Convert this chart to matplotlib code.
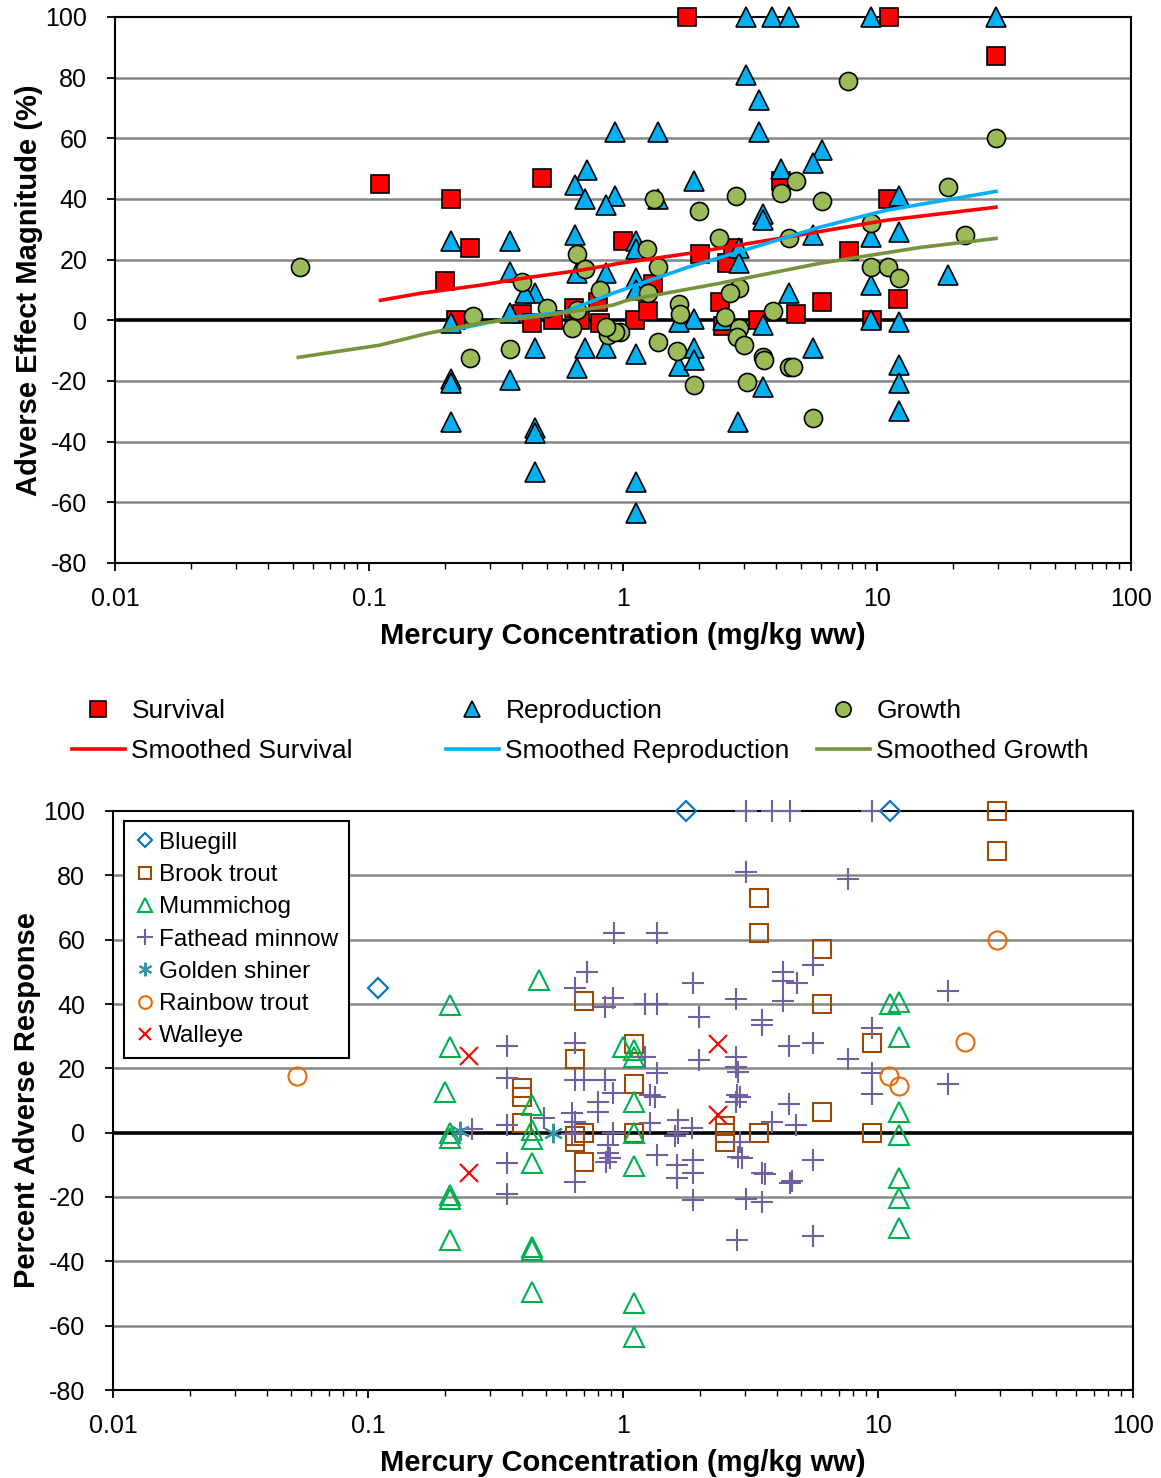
import numpy as np
import matplotlib
matplotlib.use("Agg")
import matplotlib.pyplot as plt
from matplotlib.lines import Line2D
from matplotlib.ticker import FixedLocator, FuncFormatter, LogLocator, NullFormatter

plt.rcParams['font.family'] = ['Liberation Sans', 'DejaVu Sans']
plt.rcParams['axes.unicode_minus'] = False

# ---- top panel: endpoints ----
surv_x = [0.11, 0.20, 0.21, 0.22, 0.25, 0.40, 0.44, 0.48, 0.53, 0.64, 0.68, 0.80, 0.81, 1.0,
          1.11, 1.25, 1.31, 1.79, 2.01, 2.41, 2.48, 2.57, 2.71, 3.4, 4.19, 4.8, 6.07, 7.76,
          9.6, 11.0, 11.1, 12.1, 29.4]
surv_y = [45, 13, 40, 0, 24, 2, -1, 47, 0, 4, 0, 6, -1, 26,
          0, 3, 12, 100, 22, 6, -2, 19, 24, 0, 46, 2, 6, 23,
          0, 40, 100, 7, 87]

repro_x = [3.05, 3.86, 4.5, 9.47, 29.4, 3.05, 3.43, 3.43, 0.93, 1.37, 6.07, 5.6, 0.72, 0.65,
           0.71, 0.93, 0.86, 1.9, 1.37, 12.2, 4.2, 3.55, 3.55, 9.5, 12.2, 1.13, 1.13, 0.65,
           0.36, 0.21, 0.36, 0.86, 0.66, 1.13, 1.13, 2.86, 2.86, 5.6, 9.5, 19, 4.5, 5.6,
           1.9, 1.66, 3.55, 9.5, 12.2, 12.2, 12.2, 12.2, 2.84, 3.55, 1.66, 1.9, 1.9, 0.86,
           0.71, 0.66, 1.12, 1.12, 1.12, 0.45, 0.45, 0.45, 0.45, 0.21, 0.21, 0.21, 0.21,
           0.36, 0.36, 0.45, 0.41, 2.48]
repro_y = [100, 100, 100, 100, 100, 81, 72.5, 62, 62, 62, 56, 52, 49.5, 44.5,
           40, 41, 38, 46, 40, 41, 50, 35, 33, 27.5, 29, 26, 23.5, 28,
           26, 26, 16, 15.5, 15.5, 14, 10, 24, 19, 28, 11.5, 15, 9, -9.2,
           0.6, -0.7, -1.6, 0, -0.6, -14.8, -20.8, -30, -33.6, -22, -15, -9, -13, -9.2,
           -9.2, -15.8, -11, -53.4, -63.6, -9.2, -35.5, -37, -50, -1, -19.5, -20.8, -33.6,
           -19.8, 2.3, 9, 9, 0]

growth_x = [0.0535, 7.7, 29.4, 19, 22.2, 9.5, 9.5, 11.0, 12.2, 4.8, 4.2, 2.78, 6.07, 1.32,
            2.0, 2.39, 4.5, 1.24, 1.37, 2.86, 2.64, 1.25, 1.66, 1.68, 0.97, 1.37, 1.63, 1.9,
            2.52, 2.86, 2.8, 3.0, 3.56, 3.6, 3.9, 3.08, 4.5, 4.66, 5.6, 0.257, 0.25, 0.36,
            0.40, 0.50, 0.66, 0.63, 0.81, 0.87, 0.93, 0.86, 0.66, 0.71]
growth_y = [17.5, 79, 60, 44, 28, 32, 17.5, 17.5, 14, 46, 42, 41, 39.5, 40,
            36, 27, 27, 23.6, 17.5, 10.5, 9, 9, 5.3, 2, -4, -7.3, -10, -21.4,
            1, -2.6, -5.6, -8.2, -12.2, -13, 3, -20.4, -15.5, -15.5, -32.3, 1.3, -12.5, -9.6,
            12.5, 4, 3.3, -2.6, 10, -5, -4, -2.3, 22, 16.8]

# smoothed curves
sm_surv_x = [0.111, 0.159, 0.27, 0.43, 0.68, 0.97, 1.8, 4.4, 10.9, 29.4]
sm_surv_y = [6.6, 8.9, 11.5, 14.2, 16.5, 18.8, 22, 27.4, 33, 37.3]
sm_repro_x = [0.21, 0.37, 0.58, 0.91, 1.8, 3.25, 5.96, 10.9, 29.4]
sm_repro_y = [-3.3, 1, 2.6, 8.9, 17.5, 24, 30.7, 36.3, 42.5]
sm_growth_x = [0.0527, 0.11, 0.17, 0.27, 0.50, 0.91, 1.04, 2.4, 5.96, 14.7, 29.4]
sm_growth_y = [-12.2, -8.2, -4.3, -1, 1.6, 5, 6.6, 12.2, 18.8, 24, 27]

# ---- bottom panel: species ----
bluegill_x = [0.109, 1.77, 11.1]
bluegill_y = [45, 100, 100]

brook_x = [29.3, 29.3, 3.41, 3.41, 6.03, 6.03, 0.70, 0.65, 0.40, 0.40, 0.40, 1.10, 1.10,
           1.10, 0.70, 0.65, 0.65, 0.70, 2.51, 2.51, 2.51, 3.41, 6.03, 9.5, 9.5]
brook_y = [100, 87.5, 73, 62, 57, 40, 41, 23, 14, 11, 3, 27.5, 15,
           0, 0, -1, -3, -9, 2, 0, -3, 0, 6.5, 0, 28]

mummi_x = [0.21, 0.21, 0.21, 0.21, 0.21, 0.21, 0.21, 0.20, 0.44, 0.44, 0.44, 0.44, 0.44,
           0.44, 0.44, 0.47, 1.0, 1.1, 1.1, 1.1, 1.1, 1.1, 1.1, 1.1, 11.1, 12.1, 12.1, 12.1,
           12.1, 12.1, 12.1, 12.1]
mummi_y = [39.7, 26.6, 0, -1.6, -19.5, -20.5, -33.4, 12.6, 8.6, 0.8, -2, -9.5, -35.5,
           -36.5, -49.6, 47.5, 26.6, 25.7, 23.5, 9.5, 0, -10.5, -53, -63.5, 40, 40.6, 29.7, 6.4,
           -0.8, -14, -20.4, -29.7]

fathead_x = [3.04, 3.84, 4.5, 9.5, 3.04, 7.6, 1.36, 0.92, 0.72, 0.65, 0.91, 0.85, 0.65, 0.35,
             4.24, 5.55, 4.24, 4.8, 4.24, 1.88, 1.22, 1.36, 2.77, 1.98, 3.51, 3.51, 4.47, 5.55,
             18.9, 9.5, 7.6, 18.9, 1.98, 2.77, 2.77, 2.82, 9.5, 9.5, 2.88, 2.77, 1.33, 1.36,
             1.22, 1.64, 1.64, 1.86, 1.36, 1.63, 1.63, 1.88, 1.88, 1.88, 2.88, 2.93, 3.04, 3.51,
             3.51, 4.5, 4.47, 3.84, 4.77, 5.55, 2.8, 5.55, 1.28, 1.28, 2.82, 2.8, 3.6, 4.6,
             0.35, 0.65, 0.70, 0.85, 0.80, 0.80, 0.91, 0.256, 0.35, 0.35, 0.35, 0.49, 0.65, 0.63,
             0.87, 0.87, 0.89, 0.65, 0.91, 0.86, 0.63, 1.6]
fathead_y = [100, 100, 100, 100, 81, 79, 62, 62, 50, 45, 42, 39, 28, 27,
             50, 52, 47, 46.5, 41, 46.5, 40, 40, 41.5, 36, 35, 33.5, 27, 28,
             44, 32.5, 23, 15, 22.5, 23.5, 20.5, 19, 18.5, 12, 11, 9.5, 11, 18.5,
             23.5, 4, 0, 1.5, -7, -10, -14, -8.5, -12.5, -21, -3, -8, -20.5, -21.5,
             -12.5, -15.5, 9, 3.3, 2.3, -8.5, -33.5, -32, 3, 11.7, -7.6, 11.7, -13, -15,
             17, 16.3, 16.3, 16.3, 9.5, 6.4, 12.3, 1, 2.4, -9.5, -19, 4.5, 3.4, 6,
             -3.8, -6.3, -8, -15.4, 0, -9.2, -0.5, -1]

shiner_x = [0.23, 0.53]
shiner_y = [0.5, 0]

rainbow_x = [0.0527, 29.3, 22.0, 11.0, 12.1]
rainbow_y = [17.6, 60, 28.2, 17.6, 14.5]

walleye_x = [0.25, 0.25, 2.36, 2.36]
walleye_y = [23.8, -12.5, 27.5, 5.5]

xticks = [0.01, 0.1, 1, 10, 100]
xtick_labels = ['0.01', '0.1', '1', '10', '100']
yticks = list(range(-80, 101, 20))

FS = 18
fig = plt.figure(figsize=(11.61, 14.78), dpi=100)
ax1 = fig.add_axes([115 / 1161, 1 - 563 / 1478, 1016 / 1161, 546 / 1478])
ax2 = fig.add_axes([113 / 1161, 1 - 1390 / 1478, 1020 / 1161, 579 / 1478])


def style_axis(ax, ylabel, ylabelpad):
    ax.set_xscale('log')
    ax.set_xlim(0.01, 100)
    ax.set_ylim(-80, 100)
    ax.xaxis.set_major_locator(FixedLocator(xticks))
    ax.xaxis.set_major_formatter(FuncFormatter(lambda v, p: xtick_labels[xticks.index(v)] if v in xticks else ''))
    ax.xaxis.set_minor_locator(LogLocator(base=10, subs=np.arange(2, 10)))
    ax.xaxis.set_minor_formatter(NullFormatter())
    ax.set_yticks(yticks)
    ax.tick_params(axis='both', which='major', direction='out', length=6, width=1.3,
                   labelsize=FS)
    ax.tick_params(axis='x', which='major', pad=11)
    ax.tick_params(axis='y', which='major', pad=14)
    ax.tick_params(axis='x', which='minor', direction='out', length=4, width=1.0)
    for g in yticks:
        if g not in (0, 100, -80):
            ax.axhline(g, color='#868686', lw=1.8, zorder=1)
    ax.axhline(0, color='black', lw=2.6, zorder=2)
    for s in ax.spines.values():
        s.set_linewidth(1.5)
        s.set_color('black')
    ax.set_xlabel('Mercury Concentration (mg/kg ww)', fontsize=21, fontweight='bold', labelpad=8)
    ax.set_ylabel(ylabel, fontsize=21, fontweight='bold', labelpad=ylabelpad)


style_axis(ax1, 'Adverse Effect Magnitude (%)', 2)
style_axis(ax2, 'Percent Adverse Response', 2)

# top panel
ms = 13
ax1.plot(surv_x, surv_y, ls='none', marker='s', ms=ms, mfc='#FF0000', mec='black', mew=1.2,
         zorder=3, clip_on=False)
ax1.plot(repro_x, repro_y, ls='none', marker='^', ms=ms + 1, mfc='#00B0F0', mec='black', mew=1.2,
         zorder=3, clip_on=False)
ax1.plot(growth_x, growth_y, ls='none', marker='o', ms=ms, mfc='#9BBB59', mec='black', mew=1.2,
         zorder=3, clip_on=False)
ax1.plot(sm_surv_x, sm_surv_y, color='#FF0000', lw=2.6, zorder=4)
ax1.plot(sm_repro_x, sm_repro_y, color='#00B0F0', lw=2.6, zorder=4)
ax1.plot(sm_growth_x, sm_growth_y, color='#77933C', lw=2.6, zorder=4)

# top legend, three columns placed by hand
leg_cols = [
    (72, [Line2D([], [], ls='none', marker='s', ms=11, mfc='#FF0000', mec='black', mew=1.2),
          Line2D([], [], color='#FF0000', lw=2.6)], ['Survival', 'Smoothed Survival']),
    (446, [Line2D([], [], ls='none', marker='^', ms=12, mfc='#00B0F0', mec='black', mew=1.2),
           Line2D([], [], color='#00B0F0', lw=2.6)], ['Reproduction', 'Smoothed Reproduction']),
    (817, [Line2D([], [], ls='none', marker='o', ms=11, mfc='#9BBB59', mec='black', mew=1.2),
           Line2D([], [], color='#77933C', lw=2.6)], ['Growth', 'Smoothed Growth']),
]
for xpx, hh, ll in leg_cols:
    fig.legend(hh, ll, loc='upper left', bbox_to_anchor=(xpx / 1161, 1 - 699 / 1478),
               frameon=False, fontsize=19, handlelength=2.0, handletextpad=0.25,
               borderpad=0, borderaxespad=0, labelspacing=0.62)

# bottom panel
kw = dict(ls='none', ms=13, mew=1.5, mfc='none', zorder=3, clip_on=False)
ax2.plot(bluegill_x, bluegill_y, marker='D', color='#0070C0', label='Bluegill', **{**kw, 'ms': 10})
ax2.plot(brook_x, brook_y, marker='s', color='#9C4A06', label='Brook trout', **kw)
ax2.plot(mummi_x, mummi_y, marker='^', color='#00B050', label='Mummichog', **{**kw, 'ms': 14})
ax2.plot(fathead_x, fathead_y, marker='+', color='#7060A0', label='Fathead minnow', **{**kw, 'ms': 16})
ax2.plot(shiner_x, shiner_y, marker=(6, 2, 0), color='#3893A8', label='Golden shiner', **{**kw, 'ms': 14})
ax2.plot(rainbow_x, rainbow_y, marker='o', color='#E46C0A', label='Rainbow trout', **kw)
ax2.plot(walleye_x, walleye_y, marker='x', color='#FF0000', label='Walleye', **kw)

leg2 = ax2.legend(loc='upper left', bbox_to_anchor=(11 / 1020, 1 - 10 / 579), fontsize=17.5,
                  frameon=True, fancybox=False, edgecolor='black', framealpha=1,
                  handlelength=0.8, handletextpad=0.2, markerscale=0.7, labelspacing=0.42,
                  borderpad=0.45, borderaxespad=0)
leg2.get_frame().set_linewidth(1.5)
leg2.set_zorder(10)

fig.savefig('out.png', dpi=100)
